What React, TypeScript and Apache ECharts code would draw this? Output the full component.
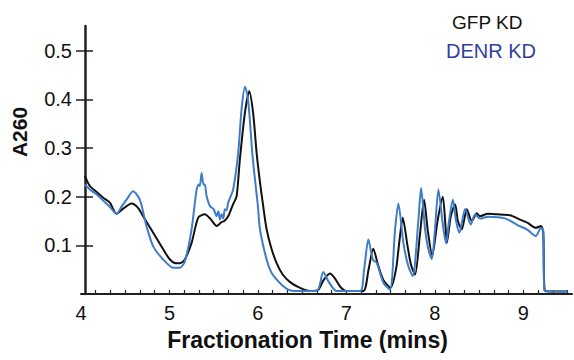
import React, { useEffect, useRef } from "react";
import * as echarts from "echarts";

const gfpTime = [
  4.043, 4.1, 4.175, 4.25, 4.326, 4.402, 4.48, 4.571, 4.64, 4.702, 4.816, 4.929, 5.005, 5.08, 5.13,
  5.174, 5.25, 5.325, 5.4, 5.46, 5.533, 5.59, 5.62, 5.664, 5.72, 5.759, 5.796, 5.853, 5.902,
  5.947, 5.985, 6.023, 6.06, 6.098, 6.15, 6.21, 6.28, 6.36, 6.47, 6.59, 6.68, 6.74, 6.815,
  6.87, 6.93, 7.0, 7.19, 7.25, 7.304, 7.36, 7.42, 7.5, 7.56, 7.6, 7.637, 7.69, 7.73, 7.776,
  7.83, 7.878, 7.92, 7.97, 8.03, 8.089, 8.12, 8.135, 8.18, 8.229, 8.26, 8.304, 8.361, 8.418,
  8.474, 8.51, 8.6, 8.7, 8.85, 8.95, 9.05, 9.14, 9.2, 9.225, 9.245, 9.35, 9.5,
];
const gfpA260 = [
  0.243, 0.222, 0.21, 0.198, 0.188, 0.165, 0.176, 0.186, 0.178, 0.16, 0.126, 0.092, 0.071, 0.063, 0.064,
  0.071, 0.105, 0.157, 0.164, 0.155, 0.14, 0.148, 0.15, 0.16, 0.185, 0.201, 0.277, 0.373, 0.417,
  0.37, 0.29, 0.23, 0.18, 0.133, 0.095, 0.064, 0.04, 0.025, 0.013, 0.006, 0.008, 0.028, 0.042,
  0.032, 0.015, 0.006, 0.006, 0.05, 0.093, 0.058, 0.028, 0.013, 0.05, 0.11, 0.157, 0.1, 0.06, 0.04,
  0.12, 0.194, 0.13, 0.079, 0.15, 0.2, 0.14, 0.105, 0.16, 0.184, 0.15, 0.133, 0.174, 0.15,
  0.166, 0.16, 0.165, 0.164, 0.162, 0.154, 0.146, 0.136, 0.14, 0.126, 0.006, 0.005, 0.005,
];

const denrTime = [
  4.043, 4.1, 4.175, 4.25, 4.326, 4.402, 4.46, 4.515, 4.589, 4.665, 4.741, 4.816, 4.929, 5.042,
  5.118, 5.174, 5.25, 5.307, 5.33, 5.344, 5.363, 5.385, 5.4, 5.42, 5.457, 5.5, 5.533, 5.553,
  5.57, 5.59, 5.608, 5.626, 5.645, 5.664, 5.72, 5.777, 5.815, 5.853, 5.88, 5.902, 5.936, 5.966,
  6.0, 6.023, 6.098, 6.15, 6.21, 6.28, 6.343, 6.42, 6.664, 6.739, 6.8, 6.89, 7.154, 7.2, 7.248,
  7.3, 7.343, 7.418, 7.493, 7.55, 7.587, 7.644, 7.7, 7.75, 7.814, 7.844, 7.889, 7.926, 7.965,
  8.0, 8.04, 8.085, 8.127, 8.16, 8.203, 8.24, 8.277, 8.342, 8.406, 8.455, 8.51, 8.6, 8.8, 8.95,
  9.04, 9.14, 9.2, 9.225, 9.24, 9.35, 9.5,
];
const denrA260 = [
  0.225, 0.215, 0.205, 0.192, 0.179, 0.165, 0.18, 0.194, 0.211, 0.194, 0.139, 0.098, 0.071, 0.054,
  0.054, 0.067, 0.133, 0.215, 0.225, 0.222, 0.249, 0.225, 0.225, 0.201, 0.181, 0.174, 0.16, 0.17,
  0.153, 0.164, 0.155, 0.174, 0.172, 0.188, 0.215, 0.29, 0.38, 0.426, 0.41, 0.373, 0.29, 0.236,
  0.18, 0.133, 0.071, 0.045, 0.03, 0.017, 0.009, 0.006, 0.006, 0.045, 0.025, 0.006, 0.006, 0.05, 0.112,
  0.07, 0.064, 0.023, 0.009, 0.133, 0.186, 0.105, 0.057, 0.037, 0.153, 0.218, 0.133, 0.092, 0.072,
  0.13, 0.215, 0.15, 0.104, 0.15, 0.194, 0.15, 0.126, 0.175, 0.143, 0.164, 0.155, 0.159, 0.155, 0.14,
  0.133, 0.119, 0.136, 0.13, 0.006, 0.005, 0.005,
];

const xLabels = [4, 5, 6, 7, 8, 9];
const xMinorTicks = Array.from({ length: 33 }, (_, i) => (25 + i) / 6);
const yLabels = [0.1, 0.2, 0.3, 0.4, 0.5];

const zip = (xs: number[], ys: number[]) => xs.map((x, i) => [x, ys[i]]);

export default function App() {
  const ref = useRef<HTMLDivElement>(null);
  useEffect(() => {
    if (!ref.current) return;
    const chart = echarts.init(ref.current, undefined, { renderer: "svg" });
    const axisColor = "#231f20";
    const font = "Liberation Sans, Arial, Helvetica, sans-serif";
    chart.setOption({
      animation: false,
      grid: { left: 81, right: 2, top: 26, bottom: 66 },
      legend: [
        {
          data: [{ name: "GFP KD", textStyle: { color: "#111111" } }],
          left: 441,
          top: 8,
          itemWidth: 0,
          itemHeight: 0,
          selectedMode: false,
          textStyle: { fontSize: 19, fontFamily: font },
        },
        {
          data: [{ name: "DENR KD", textStyle: { color: "#2f41a0" } }],
          left: 435,
          top: 36,
          itemWidth: 0,
          itemHeight: 0,
          selectedMode: false,
          textStyle: { fontSize: 20, fontFamily: font },
        },
      ],
      xAxis: {
        type: "value",
        min: 4,
        max: 9.55,
        name: "Fractionation Time (mins)",
        nameLocation: "middle",
        nameGap: 34,
        nameTextStyle: {
          fontSize: 23,
          fontWeight: "bold",
          fontFamily: font,
          color: "#111",
          padding: [0, 38, 0, 0],
        },
        axisLine: { lineStyle: { color: axisColor, width: 2 } },
        axisTick: {
          inside: true,
          length: 4,
          customValues: xMinorTicks,
          lineStyle: { color: axisColor, width: 1.2 },
        },
        axisLabel: {
          customValues: xLabels,
          fontSize: 20,
          fontFamily: font,
          color: "#111",
          margin: 9,
        },
        splitLine: { show: false },
      },
      yAxis: [
        {
          type: "value",
          min: 0,
          max: 0.551,
          offset: -4,
          name: "A260",
          nameLocation: "middle",
          nameGap: 55,
          nameTextStyle: {
            fontSize: 21,
            fontWeight: "bold",
            fontFamily: font,
            color: "#111",
            padding: [0, 0, 0, 56],
          },
          axisLine: { show: true, lineStyle: { color: axisColor, width: 2.5 } },
          axisTick: {
            show: true,
            length: 9,
            customValues: yLabels,
            lineStyle: { color: axisColor, width: 1.5 },
          },
          axisLabel: {
            customValues: yLabels,
            fontSize: 20,
            fontFamily: font,
            color: "#111",
            margin: 13,
          },
          splitLine: { show: false },
        },
        {
          type: "value",
          min: 0,
          max: 0.551,
          offset: -4,
          position: "left",
          axisLine: { show: false },
          axisTick: {
            show: true,
            inside: true,
            length: 8,
            customValues: yLabels,
            lineStyle: { color: axisColor, width: 1.5 },
          },
          axisLabel: { show: false },
          splitLine: { show: false },
        },
      ],
      series: [
        {
          name: "GFP KD",
          type: "line",
          data: zip(gfpTime, gfpA260),
          showSymbol: false,
          smooth: 0.25,
          lineStyle: { color: "#111111", width: 2 },
          itemStyle: { color: "#111111" },
        },
        {
          name: "DENR KD",
          type: "line",
          data: zip(denrTime, denrA260),
          showSymbol: false,
          smooth: 0.25,
          lineStyle: { color: "#3d7cc9", width: 2 },
          itemStyle: { color: "#3d7cc9" },
        },
      ],
    });
    return () => chart.dispose();
  }, []);
  return <div ref={ref} style={{ width: 574, height: 360, position: "absolute", left: 0, top: 0 }} />;
}
